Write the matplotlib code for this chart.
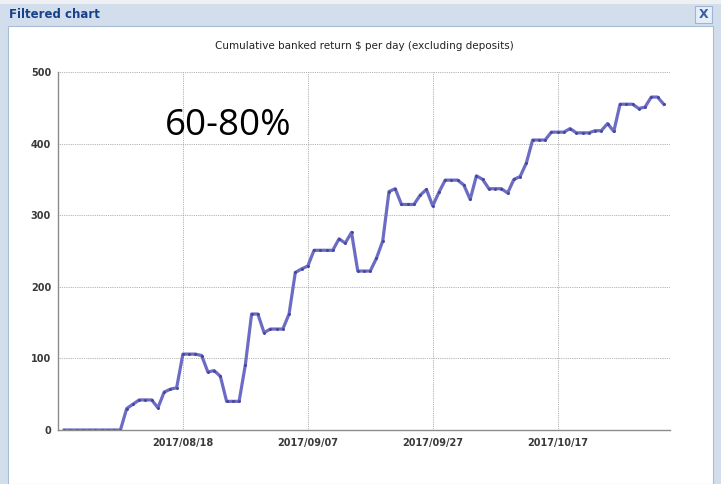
import datetime as dt
import matplotlib
matplotlib.use("Agg")
import matplotlib.pyplot as plt
import matplotlib.dates as mdates
from matplotlib.patches import Rectangle

# daily values, starting 2017/07/30
start_date = dt.date(2017, 7, 30)
returns = [
    0, 0, 0, 0, 0, 0, 0, 0, 0, 0,
    30, 36, 42, 42, 42, 31, 53, 57, 59, 106,
    106, 106, 104, 81, 83, 75, 40, 40, 40, 91,
    162, 162, 136, 141, 141, 141, 162, 220, 225, 229,
    251, 251, 251, 251, 267, 261, 276, 222, 222, 222,
    240, 264, 333, 337, 315, 315, 315, 328, 336, 313,
    332, 349, 349, 349, 342, 322, 355, 350, 337, 337,
    337, 331, 350, 354, 373, 405, 405, 405, 416, 416,
    416, 421, 415, 415, 415, 418, 418, 428, 417, 455,
    455, 455, 449, 451, 465, 465, 455,
]
dates = [start_date + dt.timedelta(days=i) for i in range(len(returns))]
tick_dates = [dt.date(2017, 8, 18), dt.date(2017, 9, 7), dt.date(2017, 9, 27), dt.date(2017, 10, 17)]
y_ticks = [0, 100, 200, 300, 400, 500]

W, H = 721, 484
fig = plt.figure(figsize=(W / 100, H / 100), dpi=100)
fig.patch.set_facecolor("white")


def px_rect(x0, y0, x1, y1, **kw):
    # rectangle given in screen pixels (top-left origin), drawn behind the axes
    r = Rectangle((x0 / W, 1 - y1 / H), (x1 - x0) / W, (y1 - y0) / H,
                  transform=fig.transFigure, zorder=-10, **kw)
    fig.add_artist(r)
    return r


# window chrome
px_rect(0, 0, W, 4, facecolor="#eef0f3", edgecolor="none")
px_rect(0, 4, W, H, facecolor="#d3deec", edgecolor="none")
px_rect(8, 26, 713, H, facecolor="white", edgecolor="#a9bcd6", linewidth=0.8)
fig.text(9 / W, 1 - 15 / H, "Filtered chart", fontsize=8.5, fontweight="bold",
         color="#15428b", va="center", ha="left", family="DejaVu Sans")
px_rect(695, 6, 712, 23, facecolor="#e6eefa", edgecolor="#9fb6d8", linewidth=0.8)
fig.text(703.5 / W, 1 - 14.5 / H, "X", fontsize=9, fontweight="bold",
         color="#3a5e9c", va="center", ha="center")

ax = fig.add_axes([58 / W, 1 - 430 / H, 612 / W, 358 / H])
ax.patch.set_alpha(0)
ax.plot(dates, returns, color="#6c6cc4", linewidth=2.3, solid_joinstyle="round",
        marker="o", markersize=1.1, markerfacecolor="#45459a", markeredgecolor="#45459a")

ax.set_xlim(dt.date(2017, 7, 29), dt.date(2017, 11, 4))
ax.set_ylim(0, 500)
ax.set_xticks(tick_dates)
ax.xaxis.set_major_formatter(mdates.DateFormatter("%Y/%m/%d"))
ax.set_yticks(y_ticks)
ax.tick_params(length=0, labelsize=7, labelcolor="#3a3a3a")
ax.tick_params(axis="x", pad=6)
ax.tick_params(axis="y", pad=5)
for lbl in ax.get_xticklabels() + ax.get_yticklabels():
    lbl.set_fontweight("bold")

ax.grid(True, linestyle=(0, (1, 1.2)), color="#9a9a9a", linewidth=0.6)
for side in ["top", "right"]:
    ax.spines[side].set_visible(False)
for side in ["left", "bottom"]:
    ax.spines[side].set_color("#8c8c8c")
    ax.spines[side].set_linewidth(1.0)

fig.text(364 / W, 1 - 46 / H, "Cumulative banked return $ per day (excluding deposits)",
         fontsize=7.5, color="#222222", ha="center", va="center")
fig.text(228 / W, 1 - 126 / H, "60-80%", fontsize=26.5, color="black",
         ha="center", va="center", family="Open Sans")

fig.savefig("out.png", dpi=100)
